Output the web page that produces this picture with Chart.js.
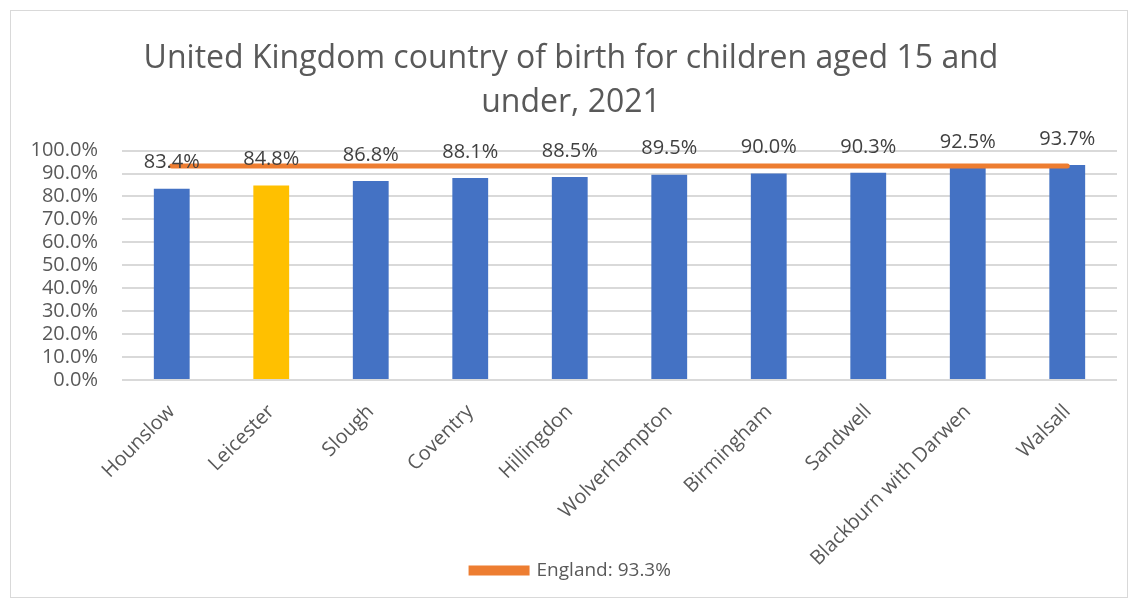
<!DOCTYPE html>
<html>
<head>
<meta charset="utf-8">
<script src="https://cdn.jsdelivr.net/npm/chart.js@4.4.0/dist/chart.umd.min.js"></script>
<style>
  html, body { margin: 0; padding: 0; background: #fff; }
  #wrap { position: absolute; left: 10px; top: 10px; width: 1118px; height: 588px; border: 1px solid #d9d9d9; box-sizing: border-box; }
  #wrap2 { position: absolute; left: 0; top: 0; width: 1133px; height: 601px; }
</style>
</head>
<body>
<div id="wrap"></div>
<div id="wrap2"><canvas id="chartContainer" width="1133" height="601"></canvas></div>
<script>
var areas = ["Hounslow", "Leicester", "Slough", "Coventry", "Hillingdon", "Wolverhampton", "Birmingham", "Sandwell", "Blackburn with Darwen", "Walsall"];
var ukBorn = [83.4, 84.8, 86.8, 88.1, 88.5, 89.5, 90.0, 90.3, 92.5, 93.7];
var englandVal = 93.3;
var englandLine = areas.map(function(){ return englandVal; });
var barColors = areas.map(function(a){ return a == "Leicester" ? "#FFC000" : "#4472C4"; });

var fontName = "'Open Sans', 'Liberation Sans', sans-serif";

// draws the % labels above each bar
var barLabels = {
    id: 'barLabels',
    afterLayout: function(chart){
        // let long rotated labels run down past the legend top, like the original
        chart.scales.x.bottom = chart.height;
    },
    afterDatasetsDraw: function(chart){
        var ctx = chart.ctx;
        var meta = chart.getDatasetMeta(1);
        ctx.save();
        ctx.font = "20px " + fontName;
        ctx.fillStyle = "#404040";
        ctx.textAlign = "center";
        ctx.textBaseline = "middle";
        meta.data.forEach(function(bar, i){
            ctx.fillText(ukBorn[i].toFixed(1) + "%", bar.x, bar.y - 26);
        });
        ctx.restore();
    }
};

var myChart = new Chart('chartContainer', {
    type: 'bar',
    data: {
        labels: areas,
        datasets: [{
            type: 'line',
            label: 'England: 93.3%',
            data: englandLine,
            borderColor: '#ED7D31',
            backgroundColor: '#ED7D31',
            borderWidth: 5,
            borderCapStyle: 'round',
            pointRadius: 0,
            order: 0
        }, {
            label: 'Areas',
            data: ukBorn,
            backgroundColor: barColors,
            categoryPercentage: 1,
            barPercentage: 0.36,
            order: 1
        }]
    },
    options: {
        responsive: false,
        animation: false,
        layout: { padding: { left: 25, right: 16, top: 36, bottom: 11 } },
        plugins: {
            title: {
                display: true,
                text: ["United Kingdom country of birth for children aged 15 and", "under, 2021"],
                color: "#595959",
                font: { family: fontName, size: 32, weight: 'normal', lineHeight: 1.4 },
                padding: { top: 0, bottom: 25 }
            },
            legend: {
                display: true,
                position: 'bottom',
                labels: {
                    filter: function(item){ return item.datasetIndex == 0; },
                    boxWidth: 56,
                    boxHeight: 5,
                    color: "#595959",
                    font: { family: fontName, size: 19 },
                    padding: 8
                }
            },
            tooltip: { enabled: false }
        },
        scales: {
            x: {
                grid: { display: false },
                border: { display: false },
                ticks: {
                    color: "#595959",
                    font: { family: fontName, size: 20 },
                    maxRotation: 45,
                    minRotation: 45,
                    padding: 12
                },
                afterFit: function(scale){ scale.height = 173; }
            },
            y: {
                min: 0,
                max: 100,
                grid: { color: "#d9d9d9", lineWidth: 2, drawTicks: false },
                border: { display: false },
                ticks: {
                    stepSize: 10,
                    autoSkip: false,
                    color: "#595959",
                    font: { family: fontName, size: 20 },
                    padding: 24,
                    callback: function(v){ return v.toFixed(1) + "%"; }
                },
                afterFit: function(scale){ scale.width = 97; }
            }
        }
    },
    plugins: [barLabels]
});
</script>
</body>
</html>
